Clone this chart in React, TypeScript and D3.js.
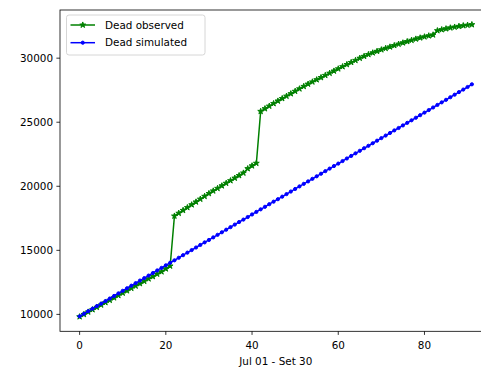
import * as d3 from "d3";

// Dead observed, days 0..91 (Jul 01 - Set 30)
const deadObserved = [
  9820, 10000, 10190, 10370, 10560, 10740, 10930, 11110, 11300, 11480,
  11670, 11850, 12040, 12220, 12410, 12590, 12780, 12960, 13150, 13330,
  13560, 13780, 17680, 17900, 18120, 18340, 18560, 18780, 19000, 19220,
  19440, 19640, 19840, 20040, 20240, 20440, 20640, 20840, 21040, 21380,
  21600, 21800, 25850, 26060, 26260, 26460, 26660, 26850, 27040, 27230,
  27420, 27610, 27800, 27980, 28150, 28320, 28490, 28660, 28830, 29000,
  29170, 29340, 29510, 29670, 29830, 30000, 30150, 30290, 30420, 30540,
  30660, 30770, 30880, 30990, 31100, 31200, 31300, 31400, 31500, 31590,
  31670, 31750, 31820, 32150, 32230, 32300, 32370, 32430, 32490, 32540,
  32580, 32620,
];

// Dead simulated, days 0..91
const deadSimulated = [
  9850, 10050, 10250, 10450, 10650, 10840, 11040, 11240, 11440, 11640,
  11840, 12040, 12240, 12440, 12640, 12830, 13030, 13230, 13430, 13630,
  13830, 14030, 14220, 14420, 14620, 14820, 15020, 15220, 15420, 15620,
  15810, 16010, 16210, 16410, 16610, 16810, 17010, 17210, 17400, 17600,
  17800, 18000, 18200, 18400, 18600, 18800, 18990, 19190, 19390, 19590,
  19790, 19990, 20190, 20380, 20580, 20780, 20980, 21180, 21380, 21580,
  21770, 21970, 22170, 22370, 22570, 22770, 22970, 23160, 23360, 23560,
  23760, 23960, 24160, 24360, 24550, 24750, 24950, 25150, 25350, 25550,
  25750, 25950, 26150, 26350, 26550, 26750, 26950, 27150, 27350, 27550,
  27750, 27960,
];

const xTicks = [0, 20, 40, 60, 80];
const yTicks = [10000, 15000, 20000, 25000, 30000];
const xLabel = "Jul 01 - Set 30";
const legendLabels = ["Dead observed", "Dead simulated"];

const W = 481;
const H = 367;
// axes box (right edge runs past the picture, as in the original)
const left = 60;
const right = 491.5;
const top = 10;
const bottom = 331.3;

const font = "DejaVu Sans, sans-serif";
const green = "#008000";
const blue = "#0000ff";

export default function App() {
  const n = deadObserved.length;
  const xPad = (n - 1) * 0.05;
  const x = d3.scaleLinear().domain([-xPad, n - 1 + xPad]).range([left, right]);

  const all = [...deadObserved, ...deadSimulated];
  const yMin = d3.min(all)!;
  const yMax = d3.max(all)!;
  const yPad = (yMax - yMin) * 0.05;
  const y = d3.scaleLinear().domain([yMin - yPad, yMax + yPad]).range([bottom, top]);

  const line = d3
    .line<number>()
    .x((_, i) => x(i))
    .y((d) => y(d));

  const star = d3.symbol().type(d3.symbolStar).size(10.5)()!;
  const dot = d3.symbol().type(d3.symbolCircle).size(Math.PI * 1.6 * 1.6)()!;

  return (
    <div style={{ position: "absolute", left: 0, top: 0 }}>
      <svg width={W} height={H} style={{ display: "block", background: "#fff" }}>
        <defs>
          <clipPath id="plot">
            <rect x={left} y={top} width={right - left} height={bottom - top} />
          </clipPath>
        </defs>

        <g clipPath="url(#plot)">
          <path d={line(deadObserved)!} fill="none" stroke={green} strokeWidth={1.5} />
          {deadObserved.map((d, i) => (
            <path
              key={"o" + i}
              d={star}
              transform={`translate(${x(i)},${y(d)})`}
              fill={green}
              stroke={green}
              strokeWidth={1}
            />
          ))}
          <path d={line(deadSimulated)!} fill="none" stroke={blue} strokeWidth={1.5} />
          {deadSimulated.map((d, i) => (
            <path
              key={"s" + i}
              d={dot}
              transform={`translate(${x(i)},${y(d)})`}
              fill={blue}
              stroke={blue}
              strokeWidth={1}
            />
          ))}
        </g>

        {/* spines */}
        <rect
          x={left}
          y={top}
          width={right - left}
          height={bottom - top}
          fill="none"
          stroke="#000"
          strokeWidth={0.8}
        />

        {/* x axis */}
        {xTicks.map((t) => (
          <g key={"x" + t} transform={`translate(${x(t)},${bottom})`}>
            <line y2={3.6} stroke="#000" strokeWidth={0.8} />
            <text y={17.5} textAnchor="middle" fontFamily={font} fontSize={10.4} fill="#000">
              {t}
            </text>
          </g>
        ))}
        <text
          x={(left + right) / 2}
          y={365}
          textAnchor="middle"
          fontFamily={font}
          fontSize={10.4}
          fill="#000"
        >
          {xLabel}
        </text>

        {/* y axis */}
        {yTicks.map((t) => (
          <g key={"y" + t} transform={`translate(${left},${y(t)})`}>
            <line x2={-3.6} stroke="#000" strokeWidth={0.8} />
            <text x={-7} dy="0.35em" textAnchor="end" fontFamily={font} fontSize={10.4} fill="#000">
              {t}
            </text>
          </g>
        ))}

        {/* legend */}
        <rect
          x={66.5}
          y={15}
          width={138.5}
          height={40}
          rx={2.5}
          fill="#fff"
          fillOpacity={0.8}
          stroke="#cccccc"
          strokeWidth={0.8}
        />
        {legendLabels.map((label, i) => {
          const ly = 25 + i * 17.7;
          const color = i === 0 ? green : blue;
          return (
            <g key={label}>
              <line x1={70.5} x2={95} y1={ly} y2={ly} stroke={color} strokeWidth={1.5} />
              <path
                d={i === 0 ? star : dot}
                transform={`translate(${82.75},${ly})`}
                fill={color}
                stroke={color}
                strokeWidth={1}
              />
              <text x={105} y={ly} dy="0.35em" fontFamily={font} fontSize={10.4} fill="#000">
                {label}
              </text>
            </g>
          );
        })}
      </svg>
    </div>
  );
}
